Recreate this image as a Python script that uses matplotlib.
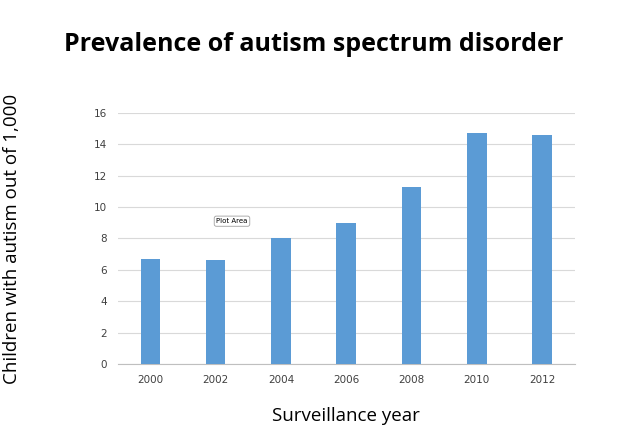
import matplotlib
matplotlib.use("Agg")
import matplotlib.pyplot as plt

years = ["2000", "2002", "2004", "2006", "2008", "2010", "2012"]
values = [6.7, 6.6, 8.0, 9.0, 11.3, 14.7, 14.6]
yticks = [0, 2, 4, 6, 8, 10, 12, 14, 16]

fig = plt.figure(figsize=(6.4, 4.48), dpi=100)
ax = fig.add_axes([0.184, 0.1875, 0.714, 0.5605])
x = range(len(years))
ax.bar(x, values, width=0.3, color="#5b9bd5", zorder=3)
ax.set_xlim(-0.5, len(years) - 0.5)
ax.set_ylim(0, 16)
ax.set_yticks(yticks)
ax.set_xticks(list(x))
ax.set_xticklabels(years)
ax.yaxis.grid(True, color="#d9d9d9", linewidth=0.8, zorder=0)
for s in ["top", "right", "left"]:
    ax.spines[s].set_visible(False)
ax.spines["bottom"].set_color("#bfbfbf")
ax.tick_params(axis="both", length=0, labelsize=7.5, colors="#404040", pad=8)
ax.set_ylabel("Children with autism out of 1,000", fontsize=13.5, labelpad=52,
              family="Open Sans")
ax.set_xlabel("Surveillance year", fontsize=13.5, labelpad=16, family="Open Sans")
fig.text(0.49, 0.9, "Prevalence of autism spectrum disorder", ha="center",
         va="center", fontsize=18, fontweight="bold", family="Open Sans")
ax.text(1.25, 9.1, "Plot Area", fontsize=5, ha="center", va="center",
        bbox=dict(boxstyle="round,pad=0.3", fc="white", ec="#a0a0a0", lw=0.6), zorder=5)
fig.savefig("out.png", dpi=100)
